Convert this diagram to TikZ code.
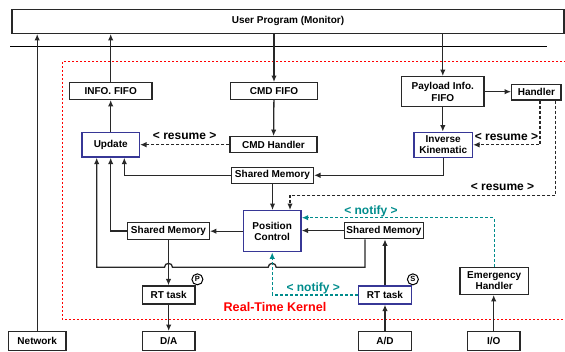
\documentclass[tikz,border=0pt]{standalone}
\usepackage{fontspec}
\newfontfamily\diafont{Liberation Sans}
\usetikzlibrary{arrows.meta,calc}

\definecolor{boxline}{RGB}{40,40,40}
\definecolor{taskblue}{RGB}{55,55,150}
\definecolor{notifyc}{RGB}{0,140,140}

\begin{document}
\begin{tikzpicture}[x=1pt, y=1pt, >={Latex[length=6.5pt,width=5.5pt]}, line width=1.3pt, draw=boxline,
  box/.style={draw=boxline, fill=white, inner sep=0pt, align=center,
    font=\diafont\bfseries\fontsize{10}{11.5}\selectfont},
  bluebox/.style={box, draw=taskblue},
  tag/.style={circle, draw=black, fill=white, inner sep=0pt, minimum size=11pt,
    line width=1pt, font=\diafont\bfseries\fontsize{7.5}{8}\selectfont},
  resume/.style={dash pattern=on 3pt off 2pt},
  notify/.style={dash pattern=on 3pt off 2pt, draw=notifyc},
  lbl/.style={inner sep=1pt, font=\diafont\bfseries\fontsize{12}{13}\selectfont},
  kernel/.style={draw=red, dash pattern=on 2pt off 2pt, line width=1.3pt}]
\useasboundingbox (0,0) rectangle (565,-352);

%% user side
\draw (288,-21.3) node[box, minimum width=552, minimum height=24] (user) {User Program (Monitor)};
\coordinate (busL) at (10,-46.5);
\coordinate (busR) at (546.7,-46.5);
\draw[draw=black, line width=1.2pt] (busL) -- (busR);

%% kernel frame
\draw[kernel] (566,-61.7) -| (62.3,-319.3) -- (566,-319.3);
\draw (275,-306.5) node[lbl, text=red, font=\diafont\bfseries\fontsize{12.6}{13}\selectfont] (rtk) {Real-Time Kernel};

%% FIFOs
\draw (110.7,-91) node[box, minimum width=82.7, minimum height=16.6] (infofifo) {INFO. FIFO};
\draw (274,-91) node[box, minimum width=86.6, minimum height=16.6] (cmdfifo) {CMD FIFO};
\draw (442.8,-91.7) node[box, minimum width=82.3, minimum height=30] (payload) {Payload Info.\\FIFO};
\draw (536.4,-92.3) node[box, minimum width=49.3, minimum height=15.3] (handler) {Handler};

%% tasks
\draw (infofifo) ++(0,-53.7) node[bluebox, minimum width=57.3, minimum height=24.7] (update) {Update};
\draw (cmdfifo) ++(-0.5,-53.7) node[box, minimum width=87, minimum height=16] (cmdh) {CMD Handler};
\draw (payload) ++(0.4,-53.1) node[bluebox, minimum width=58.3, minimum height=25] (ik) {Inverse\\Kinematic};
\draw (cmdh) ++(-1,-30.6) node[box, minimum width=81.7, minimum height=16] (sm1) {Shared Memory};
\draw (sm1) ++(-0.3,-55.9) node[bluebox, minimum width=57.7, minimum height=41] (pc) {Position\\Control};
\draw (168.5,-231) node[box, minimum width=81.6, minimum height=16.6] (sm3) {Shared Memory};
\draw (384,-230.6) node[box, minimum width=79.4, minimum height=16.2] (sm2) {Shared Memory};
\draw (sm3) ++(0.2,-64) node[box, minimum width=52.7, minimum height=18] (rtp) {RT task};
\draw (sm2) ++(1,-64.4) node[bluebox, minimum width=53.3, minimum height=18] (rts) {RT task};
\draw (494.2,-280.8) node[box, minimum width=68.3, minimum height=27] (emerg) {Emergency\\Handler};
\draw (rtp.north east) ++(1.7,6) node[tag] (ptag) {P};
\draw (rts.north east) ++(0.6,6) node[tag] (stag) {S};

%% devices
\draw (37.2,-341.2) node[box, minimum width=57.7, minimum height=19] (network) {Network};
\draw (rtp) ++(0,-46.2) node[box, minimum width=52.7, minimum height=19] (da) {D/A};
\draw (rts) ++(0,-46.2) node[box, minimum width=53.3, minimum height=19] (ad) {A/D};
\draw (emerg) ++(-0.5,-60.4) node[box, minimum width=52.7, minimum height=19] (io) {I/O};

%% data paths
\path[draw, ->] (network) -- (network |- user.south);
\path[draw, ->] (infofifo) -- (infofifo |- user.south);
\path[draw, ->] (update) -- (infofifo);
\path[draw, ->] (cmdfifo |- user.south) -- (cmdfifo);
\path[draw, ->] (cmdfifo) -- (cmdh);
\path[draw, ->] (payload |- user.south) -- (payload);
\path[draw, ->] (payload) -- (payload -| handler.west);
\path[draw, ->] (payload) -- (payload |- ik.north);
\path[draw, ->] (ik) |- (sm1);
\path[draw, ->] (sm1) -| ([xshift=13.6]update.south);
\path[draw, ->] (sm1) -- (sm1 |- pc.north);
\path[draw, ->] (pc) -- (pc -| sm3.east);
\path[draw, ->] (sm3) -| (update);
\path[draw, ->] (sm2) -- (sm2 -| pc.east);
\path[draw, ->] (sm3) -- (sm3 |- rtp.north);
\path[draw, ->] (rtp) -- (da);
\path[draw, ->] (ad) -- (rts);
\path[draw, ->] (rts) -- (rts |- sm2.south);
\path[draw, ->] (io) -- (io |- emerg.south);

%% feedback loop, hopping over the two verticals
\coordinate (loop) at (0,-267.3);
\path[draw, ->] ([xshift=-19]sm2.south) |- ($(pc |- loop)+(4,0)$)
  arc[start angle=0, end angle=180, radius=4] -- ($(sm3 |- loop)+(4,0)$)
  arc[start angle=0, end angle=180, radius=4] -| ([xshift=-14]update.south);

%% resume signals
\path[draw, resume, ->] (cmdh) -- node[lbl, above=3pt] {< resume >} (update);
\path[draw, resume, ->] ([xshift=3.6]handler.south) |- node[lbl, above=3pt, pos=0.75] {< resume >} (ik);
\coordinate (rsA) at ($(pc.north)+(17.8,14.7)$);
\path[draw, resume, ->] ([xshift=19.3]handler.south) |- node[lbl, above=3pt, pos=0.6] {< resume >} (rsA) -- (rsA |- pc.north);

%% notify signals
\path[draw, notify, ->] (rts) -| node[lbl, above=-0.5pt, pos=0.26, text=notifyc] {< notify >} (pc);
\path[draw, notify, ->] (emerg) |- node[lbl, above=-0.5pt, pos=0.82, text=notifyc] {< notify >} ([yshift=13.5]pc.east);
\end{tikzpicture}
\end{document}
